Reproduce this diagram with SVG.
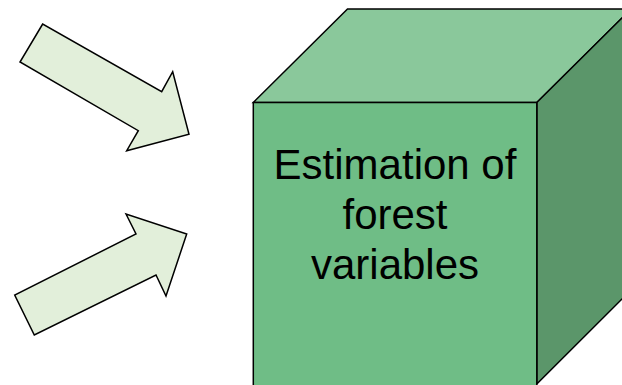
<svg xmlns="http://www.w3.org/2000/svg" width="622" height="385" viewBox="0 0 622 385">
<style>
.arrow{fill:#E2EFDA;stroke:#000;stroke-width:1.5;stroke-linejoin:miter}
.face{stroke:#000;stroke-width:1.5;stroke-linejoin:miter}
.lbl{font-family:"Liberation Sans",Arial,sans-serif;font-size:42px;fill:#000;text-anchor:middle}
</style>
<rect width="622" height="385" fill="#fff"/>
<g id="arrow-top">
<polygon class="arrow" points="42.7,24 20,62 138.3,130.7 126.7,150.7 189,134.3 172.7,71.7 161.7,91.7"/>
</g>
<g id="arrow-bottom">
<polygon class="arrow" points="126,214 136,234 14.7,295 34.3,335 156,275 166,296 186.7,234"/>
</g>
<g id="cube">
<polygon class="face" fill="#8AC89B" points="253.3,102.5 347.5,9 631,9 536.8,102.5"/>
<polygon class="face" fill="#5B966A" points="536.8,102.5 631,9 631,290 536.8,384"/>
<rect class="face" fill="#6FBD86" x="253.3" y="102.5" width="283.5" height="290"/>
<text class="lbl" x="395" y="179">Estimation of</text>
<text class="lbl" x="395" y="229">forest</text>
<text class="lbl" x="395" y="279">variables</text>
</g>
</svg>
